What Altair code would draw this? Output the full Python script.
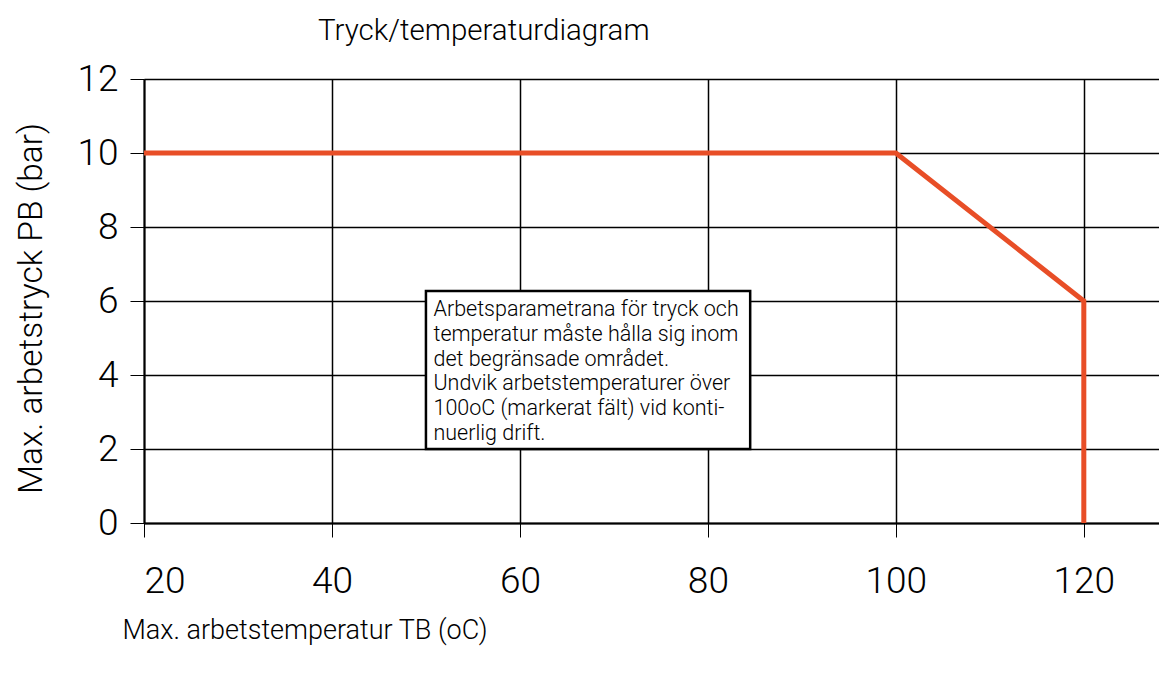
import altair as alt
import pandas as pd

# Limit curve
temperatures = [20, 100, 120, 120]
pressures = [10, 10, 6, 0]

# Axis ticks
x_ticks = [20, 40, 60, 80, 100, 120]
y_ticks = [0, 2, 4, 6, 8, 10, 12]

# Annotation box (data coordinates) and its text
note_x = [50, 84.5]
note_y = [2.0, 6.27]
note_lines = [
    "Arbetsparametrana för tryck och",
    "temperatur måste hålla sig inom",
    "det begränsade området.",
    "Undvik arbetstemperaturer över",
    "100oC (markerat fält) vid konti-",
    "nuerlig drift.",
]

title_text = "Tryck/temperaturdiagram"
x_title = "Max. arbetstemperatur TB (oC)"
y_title = "Max. arbetstryck PB (bar)"

FONT = "Roboto"
RED = "#E84E27"

curve = pd.DataFrame({"t": temperatures, "p": pressures, "o": list(range(len(temperatures)))})
box = pd.DataFrame({"x": [note_x[0]], "x2": [note_x[1]], "y": [note_y[0]], "y2": [note_y[1]]})
note = pd.DataFrame({"x": [note_x[0] + 0.8], "y": [note_y[1] - 0.22], "txt": ["\n".join(note_lines)]})

xscale = alt.Scale(domain=[20, 128], nice=False, zero=False)
yscale = alt.Scale(domain=[0, 12], nice=False, zero=False)

x_axis = alt.Axis(
    values=x_ticks, title=x_title, grid=True, gridColor="black", gridWidth=1.5, gridOpacity=1,
    domainColor="black", domainWidth=2, tickColor="black", tickSize=14, tickWidth=1,
    labelFont=FONT, labelFontWeight=300, labelFontSize=37, labelColor="black", labelPadding=26,
    titleFont=FONT, titleFontWeight=300, titleFontSize=27, titleColor="black",
    titleAlign="left", titleBaseline="middle", titleX=-22, titleY=107,
)
y_axis = alt.Axis(
    values=y_ticks, title=y_title, grid=True, gridColor="black", gridWidth=1.5, gridOpacity=1,
    domainColor="black", domainWidth=2, tickColor="black", tickSize=14, tickWidth=1,
    labelFont=FONT, labelFontWeight=300, labelFontSize=37, labelColor="black", labelPadding=12,
    titleFont=FONT, titleFontWeight=300, titleFontSize=33.5, titleColor="black",
    titleAngle=270, titleAlign="center", titleBaseline="middle", titleX=-113, titleY=229,
)

base_axes = alt.Chart(curve).mark_line(opacity=0).encode(
    x=alt.X("t:Q", scale=xscale, axis=x_axis),
    y=alt.Y("p:Q", scale=yscale, axis=y_axis),
)

rect = alt.Chart(box).mark_rect(fill="white", stroke="black", strokeWidth=2.5).encode(
    x=alt.X("x:Q", scale=xscale), x2="x2:Q",
    y=alt.Y("y:Q", scale=yscale), y2="y2:Q",
)

text = alt.Chart(note).mark_text(
    align="left", baseline="top", lineBreak="\n", lineHeight=24.7,
    font=FONT, fontWeight=300, fontSize=21.5, color="black",
).encode(
    x=alt.X("x:Q", scale=xscale), y=alt.Y("y:Q", scale=yscale), text="txt:N"
)

line = alt.Chart(curve).mark_line(color=RED, strokeWidth=5).encode(
    x=alt.X("t:Q", scale=xscale), y=alt.Y("p:Q", scale=yscale), order="o:Q"
)

chart = alt.layer(base_axes, rect, text, line).properties(
    width=1015, height=444,
    title=alt.TitleParams(
        title_text, anchor="start", frame="group", dx=174, offset=14, font=FONT, fontWeight=300,
        fontSize=29.5, color="black",
    ),
    autosize=alt.AutoSizeParams(type="none"),
    padding={"left": 136, "top": 71, "right": 0, "bottom": 142},
).configure_view(stroke=None).configure(background="white")

chart.save("out.html", embed_options={"renderer": "svg", "actions": False})
